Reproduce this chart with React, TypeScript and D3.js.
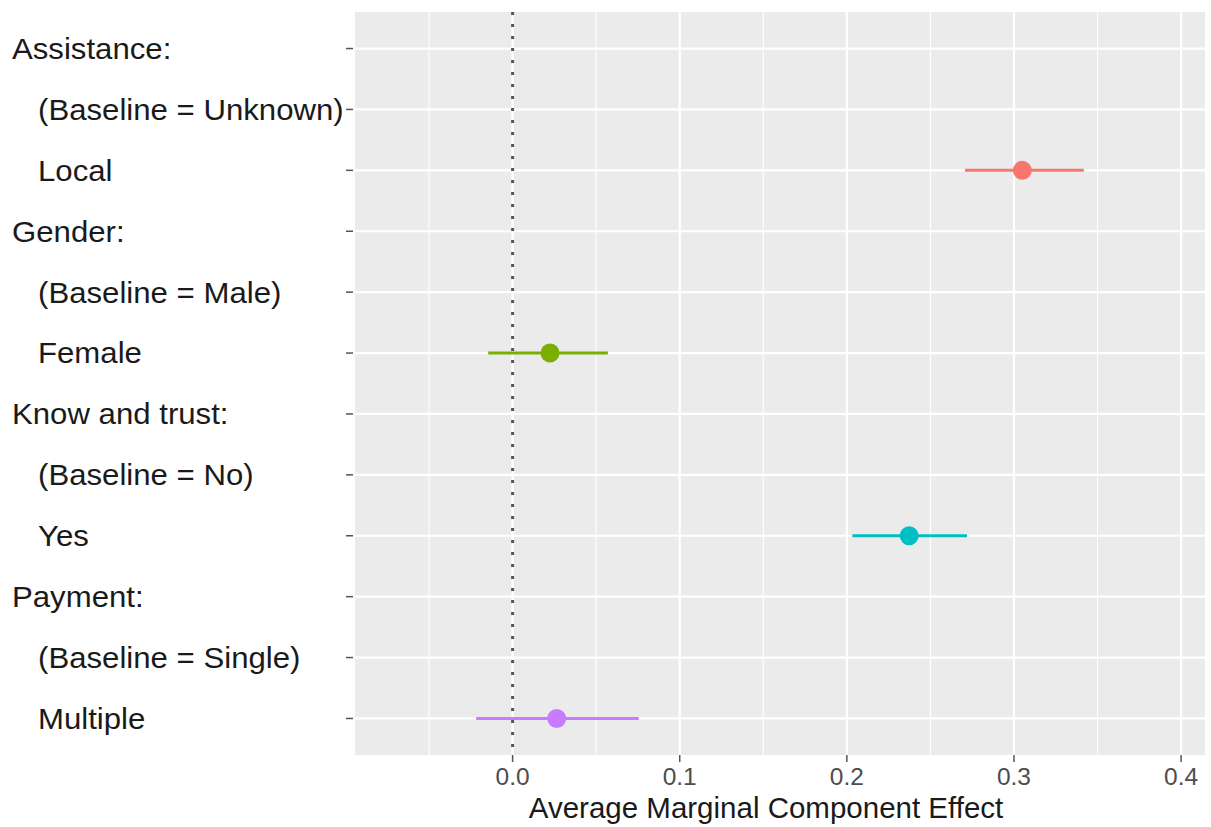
import React from "react";
import * as d3 from "d3";

const rowLabels = [
  "Assistance:",
  "  (Baseline = Unknown)",
  "  Local",
  "Gender:",
  "  (Baseline = Male)",
  "  Female",
  "Know and trust:",
  "  (Baseline = No)",
  "  Yes",
  "Payment:",
  "  (Baseline = Single)",
  "  Multiple",
];

const levels = ["  Local", "  Female", "  Yes", "  Multiple"];
const estimates = [0.305, 0.0224, 0.2373, 0.0264];
const lowerCI = [0.2707, -0.0146, 0.2033, -0.0218];
const upperCI = [0.3418, 0.057, 0.2719, 0.0755];
const colors = ["#F8766D", "#7CAE00", "#00BFC4", "#C77CFF"];

const xTicks = [0, 0.1, 0.2, 0.3, 0.4];
const xMinor = [-0.05, 0.05, 0.15, 0.25, 0.35];
const xDomain = [-0.0943, 0.4143];
const xTitle = "Average Marginal Component Effect";

const W = 1211;
const H = 827;
const panel = { left: 355, right: 1205, top: 12, bottom: 755 };

export default function App() {
  const x = d3.scaleLinear().domain(xDomain).range([panel.left, panel.right]);
  const y = d3
    .scalePoint<string>()
    .domain(rowLabels)
    .range([panel.top, panel.bottom])
    .padding(0.6);
  const font = "'Liberation Sans', Arial, Helvetica, sans-serif";

  return (
    <svg
      width={W}
      height={H}
      style={{ position: "absolute", left: 0, top: 0, background: "#fff" }}
      fontFamily={font}
    >
      <rect
        x={panel.left}
        y={panel.top}
        width={panel.right - panel.left}
        height={panel.bottom - panel.top}
        fill="#EBEBEB"
      />
      {xMinor.map((v) => (
        <line
          key={"mn" + v}
          x1={x(v)}
          x2={x(v)}
          y1={panel.top}
          y2={panel.bottom}
          stroke="#fff"
          strokeWidth={1.1}
        />
      ))}
      {xTicks.map((v) => (
        <line
          key={"mj" + v}
          x1={x(v)}
          x2={x(v)}
          y1={panel.top}
          y2={panel.bottom}
          stroke="#fff"
          strokeWidth={2.2}
        />
      ))}
      {rowLabels.map((r) => (
        <line
          key={"h" + r}
          x1={panel.left}
          x2={panel.right}
          y1={y(r)}
          y2={y(r)}
          stroke="#fff"
          strokeWidth={2.2}
        />
      ))}
      <line
        x1={x(0)}
        x2={x(0)}
        y1={panel.top}
        y2={panel.bottom}
        stroke="#555"
        strokeWidth={3}
        strokeDasharray="3 9"
      />
      {levels.map((lv, i) => (
        <g key={"pt" + lv}>
          <line
            x1={x(lowerCI[i])}
            x2={x(upperCI[i])}
            y1={y(lv)}
            y2={y(lv)}
            stroke={colors[i]}
            strokeWidth={3}
          />
          <circle cx={x(estimates[i])} cy={y(lv)} r={9.5} fill={colors[i]} />
        </g>
      ))}
      {/* y axis ticks and labels */}
      {rowLabels.map((r) => {
        const indent = r.startsWith("  ");
        const tx = indent ? 38 : 12;
        return (
          <g key={"yl" + r}>
            <line
              x1={panel.left - 9}
              x2={panel.left - 2}
              y1={y(r)}
              y2={y(r)}
              stroke="#555"
              strokeWidth={1.5}
            />
            <text
              transform={`translate(${tx},${y(r)}) scale(1.075,1)`}
              dy="0.36em"
              fontSize={29}
              fill="#1a1a1a"
            >
              {r.trim()}
            </text>
          </g>
        );
      })}
      {/* x axis ticks */}
      {xTicks.map((v) => (
        <g key={"xt" + v}>
          <line
            x1={x(v)}
            x2={x(v)}
            y1={panel.bottom}
            y2={panel.bottom + 7}
            stroke="#555"
            strokeWidth={1.5}
          />
          <text
            x={x(v)}
            y={785}
            textAnchor="middle"
            fontSize={24.5}
            fill="#4d4d4d"
          >
            {d3.format(".1f")(v)}
          </text>
        </g>
      ))}
      <text
        x={766}
        y={818}
        textAnchor="middle"
        fontSize={29.5}
        fill="#1a1a1a"
      >
        {xTitle}
      </text>
    </svg>
  );
}
